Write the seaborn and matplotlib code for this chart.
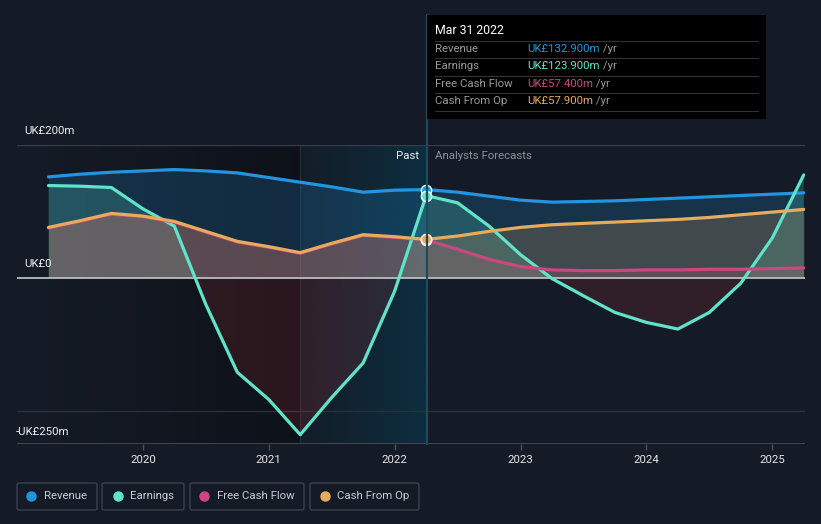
import numpy as np
import pandas as pd
import seaborn as sns
import matplotlib
matplotlib.use("Agg")
import matplotlib.pyplot as plt
from matplotlib.patches import FancyBboxPatch, Rectangle
from matplotlib.lines import Line2D

# ---------------- data (UK£ m, decimal years) ----------------
years = [2019.25, 2019.5, 2019.75, 2020.0, 2020.25, 2020.5, 2020.75, 2021.0,
         2021.25, 2021.5, 2021.75, 2022.0, 2022.25, 2022.5, 2022.75, 2023.0,
         2023.25, 2023.5, 2023.75, 2024.0, 2024.25, 2024.5, 2024.75, 2025.0,
         2025.25]
revenue = [152, 156, 159, 161, 163, 161, 158, 151, 144, 137, 129, 132, 132.9,
           129, 123, 117, 114, 115, 116, 118, 120, 122, 124, 126, 128]
earnings = [139, 138, 136, 104, 78, -40, -142, -183, -236, -180, -128, -20, 123.9,
            113, 78, 35, -1, -27, -52, -67, -77, -52, -8, 60, 155]
free_cash_flow = [75, 85, 96, 92, 84, 69, 54, 46, 37, 51, 64, 61, 57.4,
                  43, 28, 17, 12, 11, 11, 12, 12, 13, 13, 14, 15]
cash_from_op = [76, 86, 97, 93, 85, 70, 55, 47, 38, 52, 65, 62, 57.9,
                63, 70, 76, 80, 82, 84, 86, 88, 91, 95, 99, 103]

series_names = ["Revenue", "Earnings", "Free Cash Flow", "Cash From Op"]
series_values = [revenue, earnings, free_cash_flow, cash_from_op]
series_colors = ["#2394df", "#5fe3c9", "#c9487f", "#e8aa5c"]
tooltip_values = ["UK£132.900m", "UK£123.900m", "UK£57.400m", "UK£57.900m"]
tooltip_date = "Mar 31 2022"
year_ticks = [2020, 2021, 2022, 2023, 2024, 2025]
y_ticks = [200, 0, -250]
y_tick_labels = ["UK£200m", "UK£0", "-UK£250m"]
past_start, highlight_start, today = 2019.25, 2021.25, 2022.25

# ---------------- styling ----------------
BG = "#151b26"
sns.set_theme(style="dark")
plt.rcParams["font.family"] = ["Roboto", "DejaVu Sans"]

W, H = 821, 524
fig = plt.figure(figsize=(W / 100, H / 100), dpi=100, facecolor=BG)

def fx(px):
    return px / W

def fy(py):
    return 1 - py / H

ax = fig.add_axes([fx(17), fy(444), (805 - 17) / W, (444 - 145) / H])
ax.set_facecolor(BG)
for s in ax.spines.values():
    s.set_visible(False)
ax.grid(False)

# past background shading (gradients)
grad = np.linspace(0, 1, 256).reshape(1, -1)
dark = np.zeros((1, 256, 4))
dark[..., :3] = matplotlib.colors.to_rgb("#080a0e")
dark[..., 3] = 0.05 + 0.5 * grad
ax.imshow(dark, extent=[past_start, highlight_start, -250, 200], aspect="auto",
          zorder=0, interpolation="bilinear")
teal = np.zeros((1, 256, 4))
teal[..., :3] = matplotlib.colors.to_rgb("#08384c")
teal[..., 3] = 0.05 + 0.6 * grad
ax.imshow(teal, extent=[highlight_start, today, -250, 200], aspect="auto",
          zorder=0, interpolation="bilinear")
ax.set_xlim(2019.0, 2025.26)
ax.set_ylim(-250, 200)
ax.axvline(highlight_start, color="#1e2b35", lw=1, zorder=0.5)

# grid lines
ax.axhline(200, color="#363c47", lw=1, zorder=1)
ax.axhline(-200, color="#2a303a", lw=1, zorder=1)
ax.axhline(-250, color="#4a505b", lw=1.2, zorder=1)

# fills and lines
x = np.array(years)
for name, vals, col in zip(series_names, series_values, series_colors):
    v = np.array(vals, dtype=float)
    ax.fill_between(x, v, 0, where=v >= 0, interpolate=True, color=col,
                    alpha=0.2, lw=0, zorder=2)
    ax.fill_between(x, v, 0, where=v <= 0, interpolate=True, color="#d9383c",
                    alpha=0.14, lw=0, zorder=2)
    df = pd.DataFrame({"year": x, "value": v})
    sns.lineplot(data=df, x="year", y="value", color=col, lw=2.3, ax=ax,
                 zorder=3, legend=False)

ax.axhline(0, color="#b9bcc2", lw=1.3, zorder=2.5)

# today markers
for vals, col in zip(series_values, series_colors):
    ax.scatter([today], [vals[years.index(today)]], s=55, color=col,
               edgecolor="white", linewidth=1, zorder=6)

# ticks
ax.set_xticks(year_ticks)
ax.set_xticklabels([str(t) for t in year_ticks], color="#e6e6e6", fontsize=8.2)
ax.tick_params(axis="x", length=4, color="#4a505b", width=1, pad=4,
               bottom=True)
ax.set_yticks([])
ax.set_xlabel("")
ax.set_ylabel("")

# y labels (inside, above the lines)
label_px = [(24, 131), (24, 264), (16, 432)]
for (px, py), lab in zip(label_px, y_tick_labels):
    fig.text(fx(px), fy(py), lab, color="#eeeeee", fontsize=8.2,
             va="center", ha="left")

fig.text(fx(419), fy(156), "Past", color="#eeeeee", fontsize=8.2,
         ha="right", va="center")
fig.text(fx(435), fy(156), "Analysts Forecasts", color="#8b9099",
         fontsize=8.2, ha="left", va="center")

# vertical today line
fig.add_artist(Line2D([fx(427), fx(427)], [fy(15), fy(444)],
                      color="#1d4b5b", lw=1.6, zorder=5))

# tooltip
fig.add_artist(Rectangle((fx(427), fy(119)), fx(766) - fx(427),
                         fy(15) - fy(119), transform=fig.transFigure,
                         facecolor="#000000", edgecolor="none", zorder=6))
fig.text(fx(435), fy(31), tooltip_date, color="#ffffff", fontsize=8.8,
         va="center", ha="left", zorder=7)
for yy in [41, 58, 76, 93, 111]:
    fig.add_artist(Line2D([fx(435), fx(758)], [fy(yy), fy(yy)],
                          color="#333333", lw=0.8, zorder=7))
row_y = [49, 66, 84, 101]
for ry, name, val, col in zip(row_y, series_names, tooltip_values, series_colors):
    fig.text(fx(435), fy(ry), name, color="#9a9a9a", fontsize=8.2,
             va="center", ha="left", zorder=7)
    t = fig.text(fx(527), fy(ry), val, color=col, fontsize=8.2,
                 va="center", ha="left", zorder=7)
    fig.add_artist(matplotlib.text.Annotation(
        " /yr", xy=(1, 0.5), xycoords=t, va="center", ha="left",
        color="#9a9a9a", fontsize=8.2, zorder=7))

# legend boxes
boxes = [(17, 97), (102, 184), (190, 304), (310, 419)]
dots = [31, 118, 204, 325]
texts = [44, 130, 217, 337]
for (x0, x1), dx, tx, name, col in zip(boxes, dots, texts, series_names,
                                        series_colors):
    fig.add_artist(FancyBboxPatch((fx(x0), fy(510)), fx(x1) - fx(x0),
                                  fy(483) - fy(510),
                                  boxstyle="round,pad=0,rounding_size=0.003",
                                  transform=fig.transFigure,
                                  facecolor="none", edgecolor="#3b414c",
                                  lw=1))
    fig.add_artist(Line2D([fx(dx)], [fy(496)], marker="o", markersize=6.5,
                          color=col, lw=0))
    fig.text(fx(tx), fy(496), name, color="#c9cbd0", fontsize=8.2,
             va="center", ha="left")

fig.savefig("out.png", dpi=100, facecolor=BG)
